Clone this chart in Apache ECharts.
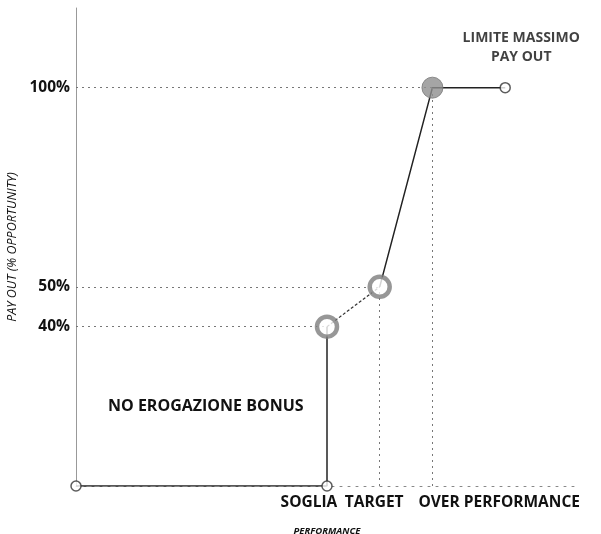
<!DOCTYPE html>
<html>
<head>
<meta charset="utf-8">
<script src="https://cdn.jsdelivr.net/npm/echarts@6/dist/echarts.min.js"></script>
<style>html,body{margin:0;background:#fff}#chart{width:601px;height:534px}</style>
</head>
<body>
<div id="chart"></div>
<script>
// data
var perf = [0, 50, 50, 60.5, 71, 85.5];
var payout = [0, 0, 40, 50, 100, 100];
var yTicks = [40, 50, 100];
var xTickLabels = ['SOGLIA', 'TARGET', 'OVER PERFORMANCE'];

var pts = perf.map(function (x, i) { return [x, payout[i]]; });
var font = '"Open Sans", sans-serif';
var guide = { color: '#777', type: [2, 4], width: 1 };

// marker look per point
function marker(i) {
    if (i === 2 || i === 3) return { symbolSize: 20, itemStyle: { color: '#fff', borderColor: '#7d7d7d', borderWidth: 4.5 } };
    if (i === 4) return { symbolSize: 21, itemStyle: { color: '#8f8f8f', borderColor: '#777', borderWidth: 1 } };
    return { symbolSize: 10, itemStyle: { color: '#fff', borderColor: '#333', borderWidth: 1.5 } };
}

var markers = pts.map(function (p, i) {
    var m = marker(i);
    m.value = p;
    if (i === pts.length - 1) {
        m.label = {
            show: true, position: 'top', distance: 15, offset: [16, 0],
            formatter: 'LIMITE MASSIMO\nPAY OUT', lineHeight: 19,
            fontFamily: font, fontWeight: 'bold', fontSize: 14, color: '#111'
        };
    }
    return m;
});

var guides = [];
[2, 3, 4].forEach(function (i) { guides.push([{ coord: [0, pts[i][1]] }, { coord: pts[i] }]); });
[3, 4].forEach(function (i) { guides.push([{ coord: [pts[i][0], 0] }, { coord: pts[i] }]); });

var xLabelAt = [46.4, 59.4, 84.3];

var mychart = echarts.init(document.getElementById('chart'));
var option = {
    animation: false,
    grid: { left: 76, right: 23, top: 8, bottom: 48, outerBoundsMode: 'none' },
    xAxis: {
        type: 'value', min: 0, max: 100,
        name: 'PERFORMANCE', nameLocation: 'middle', nameGap: 40,
        nameTextStyle: { fontFamily: font, fontStyle: 'italic', fontWeight: 'bold', fontSize: 9.5, color: '#111' },
        axisLine: { lineStyle: { color: '#888', type: [2, 6] } },
        axisTick: { show: false },
        splitLine: { show: false },
        axisLabel: {
            customValues: xLabelAt, margin: 9,
            fontFamily: font, fontWeight: 'bold', fontSize: 15.5, color: '#111',
            formatter: function (v) { return xTickLabels[xLabelAt.indexOf(v)] || ''; }
        }
    },
    yAxis: {
        type: 'value', min: 0, max: 120,
        name: 'PAY OUT (% OPPORTUNITY)', nameLocation: 'middle', nameGap: 55, nameRotate: 90,
        nameTextStyle: { fontFamily: font, fontStyle: 'italic', fontSize: 12.5, color: '#111' },
        axisLine: { lineStyle: { color: '#999', width: 1 } },
        axisTick: { show: false },
        splitLine: { show: false },
        axisLabel: {
            customValues: yTicks, margin: 6,
            fontFamily: font, fontWeight: 'bold', fontSize: 15.5, color: '#111',
            formatter: '{value}%'
        }
    },
    graphic: [{
        type: 'text', left: 108, top: 398,
        style: { text: 'NO EROGAZIONE BONUS', fontFamily: font, fontWeight: 'bold', fontSize: 16, fill: '#111' }
    }],
    series: [
        {
            type: 'line', data: pts.slice(0, 3), showSymbol: false, silent: true,
            lineStyle: { color: '#222', width: 1.5 },
            markLine: { silent: true, symbol: 'none', label: { show: false }, lineStyle: guide, data: guides }
        },
        {
            type: 'line', data: pts.slice(2, 4), showSymbol: false, silent: true,
            lineStyle: { color: '#333', width: 1.2, type: [3, 2] }
        },
        {
            type: 'line', data: pts.slice(3), showSymbol: false, silent: true,
            lineStyle: { color: '#222', width: 1.5 }
        },
        {
            type: 'scatter', data: markers, z: 5, symbol: 'circle'
        }
    ]
};
mychart.setOption(option);
</script>
</body>
</html>
